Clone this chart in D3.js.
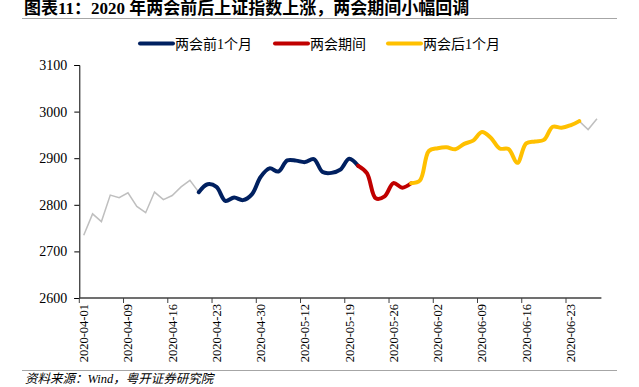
<!DOCTYPE html>
<html lang="zh">
<head>
  <meta charset="UTF-8">
  <title>2020年两会前后上证指数</title>
  <script src="https://d3js.org/d3.v7.min.js"></script>
  <style>
    body {
      margin: 0;
      background: #fff;
    }
    svg {
      display: block;
      font-family: 'Liberation Serif', 'Noto Sans CJK SC', serif;
    }
    .title {
      font-size: 17px;
      font-weight: bold;
      fill: #000;
    }
    .legend text {
      font-size: 14px;
      fill: #000;
    }
    .y-axis text {
      font-size: 14px;
      fill: #000;
    }
    .x-axis text {
      font-size: 12.5px;
      fill: #000;
    }
    .source {
      font-size: 12.5px;
      font-style: italic;
      fill: #000;
    }
  </style>
</head>
<body>
<svg width="639" height="387"></svg>

<script>
  // trading days, Shanghai Composite close
  const dates = [
    "2020-04-01","2020-04-02","2020-04-03","2020-04-07","2020-04-08","2020-04-09","2020-04-10",
    "2020-04-13","2020-04-14","2020-04-15","2020-04-16","2020-04-17","2020-04-20","2020-04-21",
    "2020-04-22","2020-04-23","2020-04-24","2020-04-27","2020-04-28","2020-04-29","2020-04-30",
    "2020-05-06","2020-05-07","2020-05-08","2020-05-11","2020-05-12","2020-05-13","2020-05-14",
    "2020-05-15","2020-05-18","2020-05-19","2020-05-20","2020-05-21","2020-05-22","2020-05-25",
    "2020-05-26","2020-05-27","2020-05-28","2020-05-29","2020-06-01","2020-06-02","2020-06-03",
    "2020-06-04","2020-06-05","2020-06-08","2020-06-09","2020-06-10","2020-06-11","2020-06-12",
    "2020-06-15","2020-06-16","2020-06-17","2020-06-18","2020-06-19","2020-06-22","2020-06-23",
    "2020-06-24","2020-06-29","2020-06-30"
  ];
  const closes = [
    2734.5, 2780.6, 2764.0, 2820.8, 2815.4, 2825.9, 2796.6,
    2783.1, 2827.3, 2811.2, 2819.9, 2838.5, 2852.6, 2827.0,
    2844.2, 2838.5, 2808.5, 2815.5, 2810.0, 2822.4, 2860.1,
    2878.1, 2871.5, 2895.3, 2894.8, 2891.6, 2898.1, 2870.3,
    2868.5, 2875.4, 2898.6, 2883.7, 2867.9, 2813.8, 2818.0,
    2846.6, 2836.8, 2846.2, 2852.4, 2915.4, 2921.4, 2923.4,
    2919.3, 2930.8, 2937.8, 2956.1, 2943.8, 2920.9, 2919.7,
    2890.0, 2931.8, 2935.9, 2939.3, 2967.6, 2965.3, 2970.6,
    2979.6, 2961.5, 2984.7
  ];

  // highlighted periods
  const seriesNames = ["两会前1个月", "两会期间", "两会后1个月"];
  const seriesStart = ["2020-04-21", "2020-05-20", "2020-05-28"];
  const seriesEnd   = ["2020-05-20", "2020-05-28", "2020-06-24"];
  const seriesColors = ["#002060", "#C00000", "#FFC000"];

  const yTicks = [2600, 2700, 2800, 2900, 3000, 3100];
  const tickEvery = 5;

  const svg = d3.select("svg");

  const x = d3.scaleBand()
    .domain(dates)
    .range([79.3, 601.4]);

  const y = d3.scaleLinear()
    .domain([2600, 3100])
    .range([298, 65]);

  const cx = d => x(d) + x.bandwidth() / 2;

  // title + rule
  svg.append("text")
    .attr("class", "title")
    .attr("x", 24)
    .attr("y", 14)
    .text("图表11：2020 年两会前后上证指数上涨，两会期间小幅回调");

  svg.append("line")
    .attr("x1", 22).attr("x2", 617)
    .attr("y1", 18.5).attr("y2", 18.5)
    .attr("stroke", "#a6a6a6")
    .attr("stroke-width", 1);

  // y axis
  const yAxis = svg.append("g")
    .attr("class", "y-axis")
    .attr("transform", "translate(79.3,0)")
    .call(d3.axisLeft(y).tickValues(yTicks).tickSize(5).tickPadding(7).tickFormat(d3.format("d")));
  yAxis.select(".domain").attr("stroke", "#000");
  yAxis.selectAll(".tick line").attr("stroke", "#000");
  yAxis.selectAll("text").style("font-family", "'Liberation Serif', serif");

  // x axis: ticks on category boundaries, labels centred
  const labelDates = dates.filter((d, i) => i % tickEvery === 0);
  const xg = svg.append("g").attr("class", "x-axis");

  xg.selectAll(".xtick")
    .data(labelDates)
    .enter()
    .append("line")
    .attr("x1", d => x(d)).attr("x2", d => x(d))
    .attr("y1", 298).attr("y2", 303)
    .attr("stroke", "#404040");

  xg.selectAll("text")
    .data(labelDates)
    .enter()
    .append("text")
    .attr("transform", d => `translate(${cx(d) + 4.5},304) rotate(-90)`)
    .attr("text-anchor", "end")
    .text(d => d);

  xg.append("line")
    .attr("x1", x.range()[0]).attr("x2", x.range()[1])
    .attr("y1", 298).attr("y2", 298)
    .attr("stroke", "#404040")
    .attr("stroke-width", 1.5);

  // full series, thin grey
  const rows = dates.map((d, i) => ({date: d, value: closes[i]}));

  svg.append("path")
    .datum(rows)
    .attr("fill", "none")
    .attr("stroke", "#BFBFBF")
    .attr("stroke-width", 1.5)
    .attr("d", d3.line().x(d => cx(d.date)).y(d => y(d.value)));

  // highlighted periods, smoothed
  const smooth = d3.line()
    .x(d => cx(d.date))
    .y(d => y(d.value))
    .curve(d3.curveCatmullRom.alpha(0.5));

  seriesNames.forEach((name, k) => {
    const seg = rows.filter(r => r.date >= seriesStart[k] && r.date <= seriesEnd[k]);
    svg.append("path")
      .datum(seg)
      .attr("fill", "none")
      .attr("stroke", seriesColors[k])
      .attr("stroke-width", 4)
      .attr("stroke-linecap", "round")
      .attr("stroke-linejoin", "round")
      .attr("d", smooth);
  });

  // legend
  const legendX = [140, 275, 388];
  const legend = svg.append("g").attr("class", "legend");
  seriesNames.forEach((name, k) => {
    legend.append("line")
      .attr("x1", legendX[k]).attr("x2", legendX[k] + 33)
      .attr("y1", 43.5).attr("y2", 43.5)
      .attr("stroke", seriesColors[k])
      .attr("stroke-width", 4)
      .attr("stroke-linecap", "round");
    legend.append("text")
      .attr("x", legendX[k] + 35)
      .attr("y", 48.5)
      .text(name);
  });

  // footer
  svg.append("line")
    .attr("x1", 22).attr("x2", 617)
    .attr("y1", 370.5).attr("y2", 370.5)
    .attr("stroke", "#a6a6a6")
    .attr("stroke-width", 1);

  svg.append("text")
    .attr("class", "source")
    .attr("x", 25)
    .attr("y", 383)
    .text("资料来源：Wind，粤开证券研究院");
</script>
</body>
</html>
